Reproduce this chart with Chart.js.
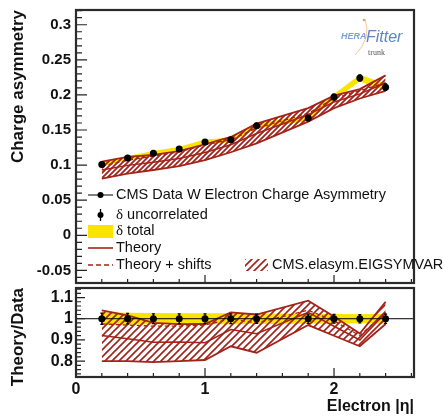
<!DOCTYPE html>
<html>
<head>
<meta charset="utf-8">
<script src="https://cdn.jsdelivr.net/npm/chart.js@4.4.1/dist/chart.umd.min.js"></script>
<style>
  html, body { margin: 0; padding: 0; background: #fff; }
  #wrap { position: relative; width: 443px; height: 419px; overflow: hidden; }
  canvas { position: absolute; left: 0; }
  #top { top: 0; }
  #ratio { top: 284px; }
</style>
</head>
<body>
<div id="wrap">
  <canvas id="top" width="443" height="287"></canvas>
  <canvas id="ratio" width="443" height="135"></canvas>
</div>
<script>
// W electron charge asymmetry vs |eta|, data with theory band and ratio panel
const eta        = [0.2, 0.4, 0.6, 0.8, 1.0, 1.2, 1.4, 1.8, 2.0, 2.2, 2.4];
const asym       = [0.101, 0.110, 0.117, 0.123, 0.133, 0.136, 0.156, 0.167, 0.197, 0.224, 0.211];
const errUncor   = [0.0027, 0.0027, 0.0027, 0.0028, 0.0030, 0.0031, 0.0034, 0.0036, 0.0040, 0.0044, 0.0046];
const errTotal   = [0.0031, 0.0031, 0.0031, 0.0032, 0.0034, 0.0035, 0.0038, 0.0040, 0.0044, 0.0048, 0.0050];
const theoryUp   = [0.1050, 0.1117, 0.1147, 0.1199, 0.1297, 0.1401, 0.1591, 0.1812, 0.1990, 0.2083, 0.2279];
const theoryLo   = [0.0808, 0.0880, 0.0930, 0.0984, 0.1071, 0.1183, 0.1310, 0.1620, 0.1812, 0.1949, 0.2057];
const theory     = [0.0930, 0.0996, 0.1040, 0.1095, 0.1180, 0.1290, 0.1450, 0.1720, 0.1900, 0.2015, 0.2170];
const theoryShft = [0.0985, 0.1067, 0.1129, 0.1187, 0.1290, 0.1360, 0.1529, 0.1737, 0.1950, 0.2061, 0.2173];

const RED = '#a3231a';
const YEL = '#f9e400';

Chart.defaults.font.family = '"Liberation Sans", Arial, sans-serif';
Chart.defaults.color = '#111';

function hatch(s, w) {
  const c = document.createElement('canvas');
  c.width = c.height = s;
  const g = c.getContext('2d');
  g.strokeStyle = RED;
  g.lineWidth = w;
  g.beginPath();
  g.moveTo(-1, s + 1); g.lineTo(s + 1, -1);
  g.moveTo(-1, 1); g.lineTo(1, -1);
  g.moveTo(s - 1, s + 1); g.lineTo(s + 1, s - 1);
  g.stroke();
  return g.createPattern(c, 'repeat');
}
const hatchFill = hatch(7, 1.6);
const hatchDense = hatch(5, 1.8);

const pts = ys => eta.map((e, i) => ({ x: e, y: ys[i] }));
const ratio = ys => ys.map((v, i) => v / asym[i]);

function bandSets(vals, up, lo, mid, shft, yUp, yLo, pattern) {
  return [
    { data: pts(vals), showLine: false, pointRadius: 3.5, pointBackgroundColor: '#000',
      pointBorderWidth: 0, order: 0 },
    { data: pts(shft), borderColor: RED, borderWidth: 1.3, borderDash: [4, 3], pointRadius: 0, order: 1 },
    { data: pts(mid), borderColor: RED, borderWidth: 1.5, pointRadius: 0, order: 1 },
    { data: pts(up), borderColor: RED, borderWidth: 1.8, pointRadius: 0, order: 2 },
    { data: pts(lo), borderColor: RED, borderWidth: 1.8, pointRadius: 0, order: 2,
      fill: '-1', backgroundColor: pattern },
    { data: pts(yUp), borderWidth: 0, pointRadius: 0, order: 5 },
    { data: pts(yLo), borderWidth: 0, pointRadius: 0, order: 5, fill: '-1', backgroundColor: YEL }
  ];
}

// frame and ROOT-style inner ticks
const framePlugin = {
  id: 'frame',
  afterDraw(chart, args, o) {
    const { ctx, chartArea: a, scales: { x, y } } = chart;
    ctx.save();
    ctx.strokeStyle = '#222';
    ctx.lineWidth = 1.2;
    ctx.beginPath();
    for (let i = Math.ceil(x.min / o.xMinor - 1e-6); i * o.xMinor <= x.max + 1e-9; i++) {
      const v = i * o.xMinor;
      const major = Math.abs(v / o.xMajor - Math.round(v / o.xMajor)) < 1e-6;
      const px = x.getPixelForValue(v);
      ctx.moveTo(px, a.bottom);
      ctx.lineTo(px, a.bottom - (major ? o.xMaj : o.xMin));
    }
    for (let i = Math.ceil(y.min / o.yMinor - 1e-6); i * o.yMinor <= y.max + 1e-9; i++) {
      const v = i * o.yMinor;
      const major = Math.abs(v / o.yMajor - Math.round(v / o.yMajor)) < 1e-6;
      const py = y.getPixelForValue(v);
      ctx.moveTo(a.left, py);
      ctx.lineTo(a.left + (major ? o.yMaj : o.yMin), py);
    }
    ctx.stroke();
    ctx.lineWidth = 2.2;
    ctx.strokeStyle = '#2a2a2a';
    ctx.strokeRect(a.left, a.top, a.right - a.left, a.bottom - a.top);
    ctx.restore();
  }
};

// vertical error bars on the data points
const errPlugin = {
  id: 'errbars',
  afterDatasetsDraw(chart, args, o) {
    const { ctx, scales: { x, y } } = chart;
    ctx.save();
    ctx.strokeStyle = '#000';
    ctx.lineWidth = 1.3;
    ctx.beginPath();
    o.vals.forEach((v, i) => {
      const px = x.getPixelForValue(eta[i]);
      const y1 = y.getPixelForValue(v - o.errs[i]);
      const y2 = y.getPixelForValue(v + o.errs[i]);
      ctx.moveTo(px, y1); ctx.lineTo(px, y2);
      ctx.moveTo(px - 1.5, y1); ctx.lineTo(px + 1.5, y1);
      ctx.moveTo(px - 1.5, y2); ctx.lineTo(px + 1.5, y2);
    });
    ctx.stroke();
    if (o.unity) {
      const py = y.getPixelForValue(1);
      ctx.lineWidth = 1;
      ctx.beginPath();
      ctx.moveTo(chart.chartArea.left, py);
      ctx.lineTo(chart.chartArea.right, py);
      ctx.stroke();
    }
    ctx.restore();
  }
};

function deltaText(ctx, s, x, y) {
  ctx.font = '15px "Liberation Serif", serif';
  ctx.fillText('\u03b4', x, y);
  const w = ctx.measureText('\u03b4').width;
  ctx.font = '14.5px "Liberation Sans", Arial, sans-serif';
  ctx.fillText(' ' + s, x + w, y);
}

const legendPlugin = {
  id: 'rootLegend',
  afterDraw(chart) {
    const ctx = chart.ctx;
    const x0 = 88, x1 = 113, xc = 100.5, tx = 116;
    ctx.save();
    ctx.textBaseline = 'middle';
    ctx.fillStyle = '#111';
    ctx.font = '14.5px "Liberation Sans", Arial, sans-serif';

    ctx.strokeStyle = '#000'; ctx.lineWidth = 1;
    ctx.beginPath(); ctx.moveTo(x0, 195); ctx.lineTo(x1, 195); ctx.stroke();
    ctx.beginPath(); ctx.arc(xc, 195, 3, 0, Math.PI * 2); ctx.fillStyle = '#000'; ctx.fill();
    ctx.fillStyle = '#111';
    ctx.fillText('CMS Data W Electron Charge Asymmetry', tx, 195);

    ctx.beginPath(); ctx.moveTo(xc, 209); ctx.lineTo(xc, 221); ctx.lineWidth = 1.3; ctx.stroke();
    ctx.beginPath(); ctx.arc(xc, 215, 3, 0, Math.PI * 2); ctx.fillStyle = '#000'; ctx.fill();
    ctx.fillStyle = '#111';
    deltaText(ctx, 'uncorrelated', tx, 215);

    ctx.fillStyle = YEL; ctx.fillRect(x0, 225, x1 - x0, 13);
    ctx.fillStyle = '#111';
    deltaText(ctx, 'total', tx, 231);

    ctx.font = '14.5px "Liberation Sans", Arial, sans-serif';
    ctx.strokeStyle = RED; ctx.lineWidth = 1.6;
    ctx.beginPath(); ctx.moveTo(x0, 248); ctx.lineTo(x1, 248); ctx.stroke();
    ctx.fillText('Theory', tx, 248);

    ctx.setLineDash([5, 3]);
    ctx.beginPath(); ctx.moveTo(x0, 265); ctx.lineTo(x1, 265); ctx.stroke();
    ctx.setLineDash([]);
    ctx.fillText('Theory + shifts', tx, 265);

    ctx.fillStyle = hatchFill; ctx.fillRect(245, 259, 23, 12);
    ctx.fillStyle = '#111';
    ctx.fillText('CMS.elasym.EIGSYMVAR', 272, 265);

    // HERAFitter logo
    ctx.strokeStyle = '#e8b878'; ctx.lineWidth = 0.8;
    ctx.beginPath(); ctx.moveTo(365, 19); ctx.quadraticCurveTo(372, 38, 355, 55); ctx.stroke();
    ctx.fillStyle = '#e0a050'; ctx.beginPath(); ctx.arc(364, 20, 1.3, 0, Math.PI * 2); ctx.fill();
    ctx.textBaseline = 'alphabetic';
    ctx.fillStyle = '#7f9fd6';
    ctx.font = 'italic bold 9px "Liberation Sans", Arial, sans-serif';
    ctx.fillText('HERA', 341, 39);
    ctx.fillStyle = '#5c86c6';
    ctx.font = 'italic 16px "Liberation Sans", Arial, sans-serif';
    ctx.fillText('Fitter', 366, 42);
    ctx.fillStyle = '#555';
    ctx.font = '8px "Liberation Serif", serif';
    ctx.fillText('trunk', 368, 55);
    ctx.restore();
  }
};

const fmt = v => String(Math.round(v * 100) / 100);
// keep the plot frame where the layout puts it, ignoring tick-label overhang
const fitY = s => { s.width = 76; s.paddingTop = 0; s.paddingBottom = 0; };

new Chart(document.getElementById('top'), {
  type: 'line',
  data: { datasets: bandSets(asym, theoryUp, theoryLo, theory, theoryShft,
    asym.map((v, i) => v + errTotal[i]), asym.map((v, i) => v - errTotal[i]), hatchDense) },
  options: {
    responsive: false, animation: false,
    layout: { padding: { top: 10, right: 29, left: 0, bottom: 0 } },
    elements: { line: { tension: 0 } },
    scales: {
      x: { type: 'linear', min: 0, max: 2.62,
        grid: { display: false, drawTicks: false }, border: { display: false },
        ticks: { display: false, stepSize: 1, includeBounds: false },
        afterFit: s => { s.height = 3; s.paddingLeft = 0; s.paddingRight = 0; } },
      y: { min: -0.068, max: 0.321,
        grid: { display: false, drawTicks: false }, border: { display: false },
        ticks: { stepSize: 0.05, includeBounds: false, padding: 5, callback: fmt,
          font: { size: 15, weight: 'bold' }, color: '#111' },
        title: { display: true, text: 'Charge asymmetry', align: 'end',
          font: { size: 17, weight: 'bold' }, padding: { top: 8, bottom: 0 } },
        afterFit: fitY }
    },
    plugins: {
      legend: { display: false }, tooltip: { enabled: false },
      frame: { xMinor: 0.2, xMajor: 1, yMinor: 0.01, yMajor: 0.05, xMaj: 8, xMin: 4, yMaj: 11, yMin: 6 },
      errbars: { vals: asym, errs: errUncor, unity: false }
    }
  },
  plugins: [framePlugin, errPlugin, legendPlugin]
});

const ones = asym.map(v => v / v);
new Chart(document.getElementById('ratio'), {
  type: 'line',
  data: { datasets: bandSets(ones, ratio(theoryUp), ratio(theoryLo), ratio(theory), ratio(theoryShft),
    errTotal.map((e, i) => 1 + e / asym[i]), errTotal.map((e, i) => 1 - e / asym[i]), hatchFill) },
  options: {
    responsive: false, animation: false,
    layout: { padding: { top: 3, right: 29, left: 0, bottom: 0 } },
    elements: { line: { tension: 0 } },
    scales: {
      x: { type: 'linear', min: 0, max: 2.62,
        grid: { display: false, drawTicks: false }, border: { display: false },
        ticks: { stepSize: 1, includeBounds: false, padding: 3, callback: fmt,
          font: { size: 16, weight: 'bold' }, color: '#111' },
        title: { display: true, text: 'Electron |\u03b7|', align: 'end',
          font: { size: 16, weight: 'bold' }, padding: { top: 0, bottom: 3 } },
        afterFit: s => { s.height = 42; s.paddingLeft = 0; s.paddingRight = 0; } },
      y: { min: 0.725, max: 1.145,
        grid: { display: false, drawTicks: false }, border: { display: false },
        ticks: { stepSize: 0.1, includeBounds: false, padding: 3, callback: fmt,
          font: { size: 16, weight: 'bold' }, color: '#111' },
        title: { display: true, text: 'Theory/Data', align: 'end',
          font: { size: 17, weight: 'bold' }, padding: { top: 8, bottom: 0 } },
        afterFit: fitY }
    },
    plugins: {
      legend: { display: false }, tooltip: { enabled: false },
      frame: { xMinor: 0.2, xMajor: 1, yMinor: 0.02, yMajor: 0.1, xMaj: 9, xMin: 4, yMaj: 9, yMin: 5 },
      errbars: { vals: ones, errs: errUncor.map((e, i) => e / asym[i]), unity: true }
    }
  },
  plugins: [framePlugin, errPlugin]
});
</script>
</body>
</html>
